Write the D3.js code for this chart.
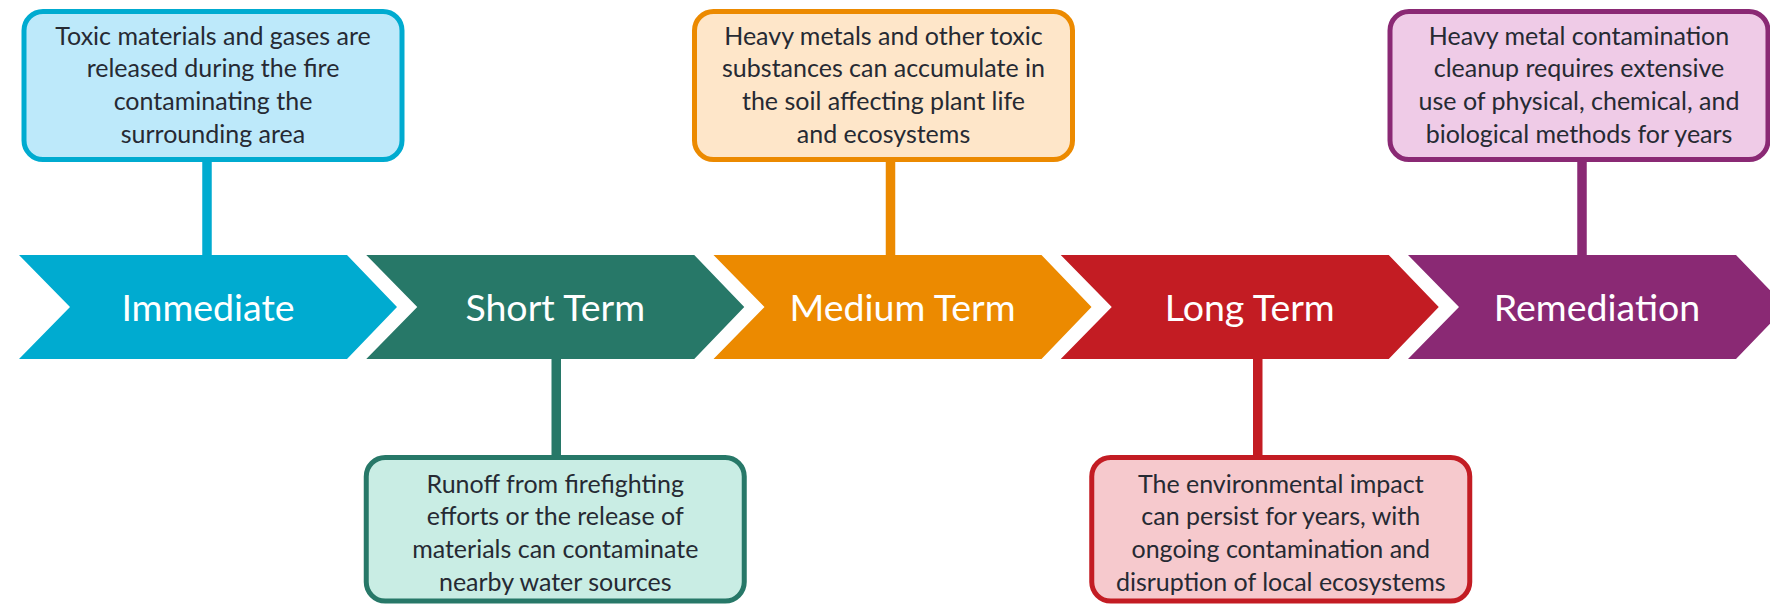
<!DOCTYPE html>
<html>
<head>
<meta charset="utf-8">
<script src="https://cdn.jsdelivr.net/npm/d3@7"></script>
<style>
  html, body { margin: 0; padding: 0; background: #fff; }
  svg { display: block; }
  .stageLabel { font-family: Lato, "Open Sans", sans-serif; fill: #fff; }
  .noteText { font-family: Lato, "Open Sans", sans-serif; fill: #262a33; }
</style>
</head>
<body>
<svg id="chart"></svg>
<script>

const stages = ["Immediate", "Short Term", "Medium Term", "Long Term", "Remediation"]

const stageColors = ["#00abd0", "#277868", "#ec8a00", "#c31c23", "#8a2974"]

const noteFills = ["#bde9fa", "#c9ede4", "#fee6c9", "#f6c9cd", "#efcbe7"]

const notePlacement = ["top", "bottom", "top", "bottom", "top"]

const notes = [
  ["Toxic materials and gases are", "released during the fire", "contaminating the", "surrounding area"],
  ["Runoff from firefighting", "efforts or the release of", "materials can contaminate", "nearby water sources"],
  ["Heavy metals and other toxic", "substances can accumulate in", "the soil affecting plant life", "and ecosystems"],
  ["The environmental impact", "can persist for years, with", "ongoing contamination and", "disruption of local ecosystems"],
  ["Heavy metal contamination", "cleanup requires extensive", "use of physical, chemical, and", "biological methods for years"]
]

const width = 1770
const height = 604

// chevron geometry
const arrowTop = 255
const arrowBottom = 359
const arrowMid = (arrowTop + arrowBottom) / 2
const bodyWidth = 328
const tipDepth = 50
const notchDepth = 51

// note boxes
const boxW = 378
const boxStroke = 5
const topBox = { y: 11.5, h: 148, text: 33 }
const bottomBox = { y: 457.5, h: 143.5, text: 35 }
const boxShift = [5, 0, -19, 31, -18]
const lineShift = [-1, 1, -12, 8, -15]
const lineGap = 32.8

const svg = d3.select("#chart")
  .attr("width", width)
  .attr("height", height)

const x = d3.scaleLinear()
  .domain([0, stages.length - 1])
  .range([19, 1408])

const centre = (i) => x(i) + (bodyWidth + tipDepth) / 2

const chevron = (i) => {
  const x0 = x(i)
  return d3.line()([
    [x0, arrowTop],
    [x0 + bodyWidth, arrowTop],
    [x0 + bodyWidth + tipDepth, arrowMid],
    [x0 + bodyWidth, arrowBottom],
    [x0, arrowBottom],
    [x0 + notchDepth, arrowMid]
  ]) + "Z"
}

const features = svg.append("g")

stages.forEach((stage, i) => {

  const boxX = centre(i) + boxShift[i]
  const box = notePlacement[i] == "top" ? topBox : bottomBox
  const lineX = centre(i) + lineShift[i]

  // connector
  features
  .append("line")
  .attr("x1", lineX)
  .attr("x2", lineX)
  .attr("y1", notePlacement[i] == "top" ? box.y + box.h : arrowBottom)
  .attr("y2", notePlacement[i] == "top" ? arrowTop : box.y)
  .attr("stroke", stageColors[i])
  .attr("stroke-width", 9.5)

  features
  .append("path")
  .attr("d", chevron(i))
  .attr("fill", stageColors[i])

  features
  .append("text")
  .attr("class", "stageLabel")
  .attr("x", centre(i))
  .attr("y", arrowMid + 13.5)
  .attr("text-anchor", "middle")
  .style("font-size", "37.5px")
  .text(stage)

  features
  .append("rect")
  .attr("x", boxX - boxW / 2)
  .attr("y", box.y)
  .attr("width", boxW)
  .attr("height", box.h)
  .attr("rx", 19)
  .attr("fill", noteFills[i])
  .attr("stroke", stageColors[i])
  .attr("stroke-width", boxStroke)

  const txt = features
  .append("text")
  .attr("class", "noteText")
  .attr("text-anchor", "middle")
  .style("font-size", "25px")

  notes[i].forEach((line, j) => {
    txt.append("tspan")
    .attr("x", boxX)
    .attr("y", box.y + box.text + j * lineGap)
    .text(line)
  })
})

</script>
</body>
</html>
